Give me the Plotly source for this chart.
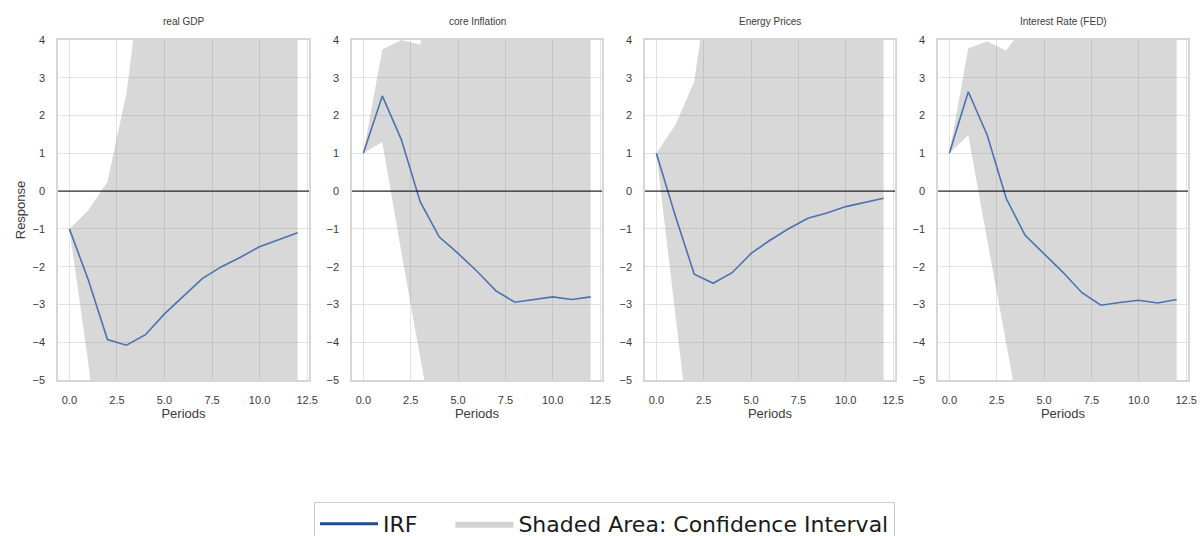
import plotly.graph_objects as go

# Impulse response horizon
periods = list(range(13))

titles = ["real GDP", "core Inflation", "Energy Prices", "Interest Rate (FED)"]

# Impulse responses per variable
irf_gdp = [-1.0, -2.36, -3.93, -4.08, -3.80, -3.25, -2.78, -2.31, -2.00, -1.75, -1.47, -1.28, -1.10]
irf_core = [1.0, 2.52, 1.37, -0.28, -1.21, -1.65, -2.12, -2.64, -2.94, -2.86, -2.80, -2.87, -2.80]
irf_energy = [1.0, -0.65, -2.20, -2.44, -2.16, -1.65, -1.30, -0.99, -0.72, -0.58, -0.41, -0.31, -0.19]
irf_fed = [1.0, 2.63, 1.48, -0.19, -1.17, -1.65, -2.15, -2.69, -3.02, -2.95, -2.89, -2.96, -2.87]

# Confidence bands (upper / lower)
up_gdp = [-1.0, -0.5, 0.25, 2.6, 6.5, 9.5, 12.0, 14.0, 15.5, 16.5, 17.2, 17.8, 18.2]
lo_gdp = [-1.0, -4.57, -9.0, -12.0, -14.0, -15.5, -16.5, -17.0, -17.5, -17.8, -18.0, -18.2, -18.4]
up_core = [1.0, 3.75, 4.0, 3.88, 6.5, 9.0, 11.0, 12.5, 13.5, 14.0, 14.5, 14.8, 15.0]
lo_core = [1.0, 1.3, -1.6, -4.5, -7.5, -10.0, -12.0, -13.5, -14.5, -15.0, -15.5, -15.8, -16.0]
up_energy = [1.0, 1.75, 2.9, 7.0, 10.0, 12.0, 13.0, 13.5, 14.0, 14.2, 14.4, 14.5, 14.6]
lo_energy = [1.0, -3.2, -7.5, -10.0, -12.0, -13.5, -14.5, -15.0, -15.5, -15.8, -16.0, -16.2, -16.4]
up_fed = [1.0, 3.78, 3.96, 3.72, 4.4, 7.0, 9.5, 11.5, 12.5, 13.2, 13.7, 14.0, 14.2]
lo_fed = [1.0, 1.48, -1.3, -4.1, -6.9, -9.5, -11.5, -13.0, -14.0, -14.7, -15.2, -15.5, -15.8]

irfs = [irf_gdp, irf_core, irf_energy, irf_fed]
uppers = [up_gdp, up_core, up_energy, up_fed]
lowers = [lo_gdp, lo_core, lo_energy, lo_fed]

x_ticks = [0.0, 2.5, 5.0, 7.5, 10.0, 12.5]
y_ticks = [-5, -4, -3, -2, -1, 0, 1, 2, 3, 4]

W, H = 1200, 536
LINE_BLUE = "#4c72b0"
BAND = "rgba(128,128,128,0.31)"
GRID = "#e2e2e2"
FRAME = "#d6d6d6"
SANS = "Liberation Sans, Arial, sans-serif"
TICK_FONT = dict(family=SANS, size=11, color="#3a3a3a")
LABEL_FONT = dict(family=SANS, size=13, color="#3a3a3a")

# panel boxes in pixels (left, right)
panel_px = [(58, 309), (352, 602), (645, 895), (938, 1188)]
top_px, bottom_px = 40, 380

fig = go.Figure()

for i in range(4):
    ax = "" if i == 0 else str(i + 1)
    xa, ya = "x" + ax, "y" + ax
    fig.add_trace(go.Scatter(x=periods, y=lowers[i], mode="lines", line=dict(width=0),
                             xaxis=xa, yaxis=ya, showlegend=False, hoverinfo="skip"))
    fig.add_trace(go.Scatter(x=periods, y=uppers[i], mode="lines", line=dict(width=0),
                             fill="tonexty", fillcolor=BAND,
                             xaxis=xa, yaxis=ya, showlegend=False, hoverinfo="skip"))
    fig.add_trace(go.Scatter(x=periods, y=irfs[i], mode="lines",
                             line=dict(color=LINE_BLUE, width=1.6),
                             xaxis=xa, yaxis=ya, showlegend=False))

    l, r = panel_px[i]
    dom_x = [l / W, r / W]
    dom_y = [1 - bottom_px / H, 1 - top_px / H]
    xkey = "xaxis" if i == 0 else f"xaxis{i + 1}"
    ykey = "yaxis" if i == 0 else f"yaxis{i + 1}"
    fig.layout[xkey] = dict(
        domain=dom_x, anchor=ya, range=[-0.6, 12.6],
        tickvals=x_ticks, ticktext=[f"{v:.1f}" for v in x_ticks],
        showgrid=True, gridcolor=GRID, gridwidth=1.2,
        showline=True, linecolor=FRAME, linewidth=1.6, mirror=True,
        zeroline=False, ticks="", tickfont=TICK_FONT, ticklabelstandoff=9,
        title=dict(text="Periods", font=LABEL_FONT, standoff=3),
    )
    fig.layout[ykey] = dict(
        domain=dom_y, anchor=xa, range=[-5, 4],
        tickvals=y_ticks,
        showgrid=True, gridcolor=GRID, gridwidth=1.2,
        showline=True, linecolor=FRAME, linewidth=1.6, mirror=True,
        zeroline=False, ticks="", tickfont=TICK_FONT, ticklabelstandoff=9,
    )
    if i == 0:
        fig.layout[ykey].title = dict(text="Response", font=LABEL_FONT, standoff=4)

    # horizontal reference at zero
    fig.add_shape(type="line", xref=f"{xa} domain", yref=ya, x0=0, x1=1, y0=0, y1=0,
                  line=dict(color="rgba(0,0,0,0.58)", width=1.6), layer="above")

    fig.add_annotation(text=titles[i], xref="paper", yref="paper",
                       x=(dom_x[0] + dom_x[1]) / 2, y=1 - 22 / H,
                       showarrow=False, xanchor="center", yanchor="middle",
                       font=dict(family=SANS, size=10, color="#3a3a3a"))

# legend entries
fig.add_trace(go.Scatter(x=[None], y=[None], mode="lines", name="IRF\u00a0\u00a0\u00a0\u00a0",
                         line=dict(color="#1f4f8a", width=3), showlegend=True))
fig.add_trace(go.Scatter(x=[None], y=[None], mode="lines", name="Shaded Area: Confidence Interval",
                         fill="toself", fillcolor="#d3d3d3", line=dict(width=0, color="#d3d3d3"),
                         showlegend=True))

fig.update_layout(
    width=W, height=H,
    margin=dict(l=0, r=0, t=0, b=0, autoexpand=False),
    plot_bgcolor="white", paper_bgcolor="white",
    showlegend=True,
    legend=dict(orientation="h", x=314 / W, xanchor="left", y=1 - 502 / H, yanchor="top",
                bordercolor="#cccccc", borderwidth=1, bgcolor="white",
                font=dict(family="DejaVu Sans", size=22, color="#1a1a1a"),
                traceorder="normal", itemwidth=58, tracegroupgap=0),
)

fig.write_html("out.html")
